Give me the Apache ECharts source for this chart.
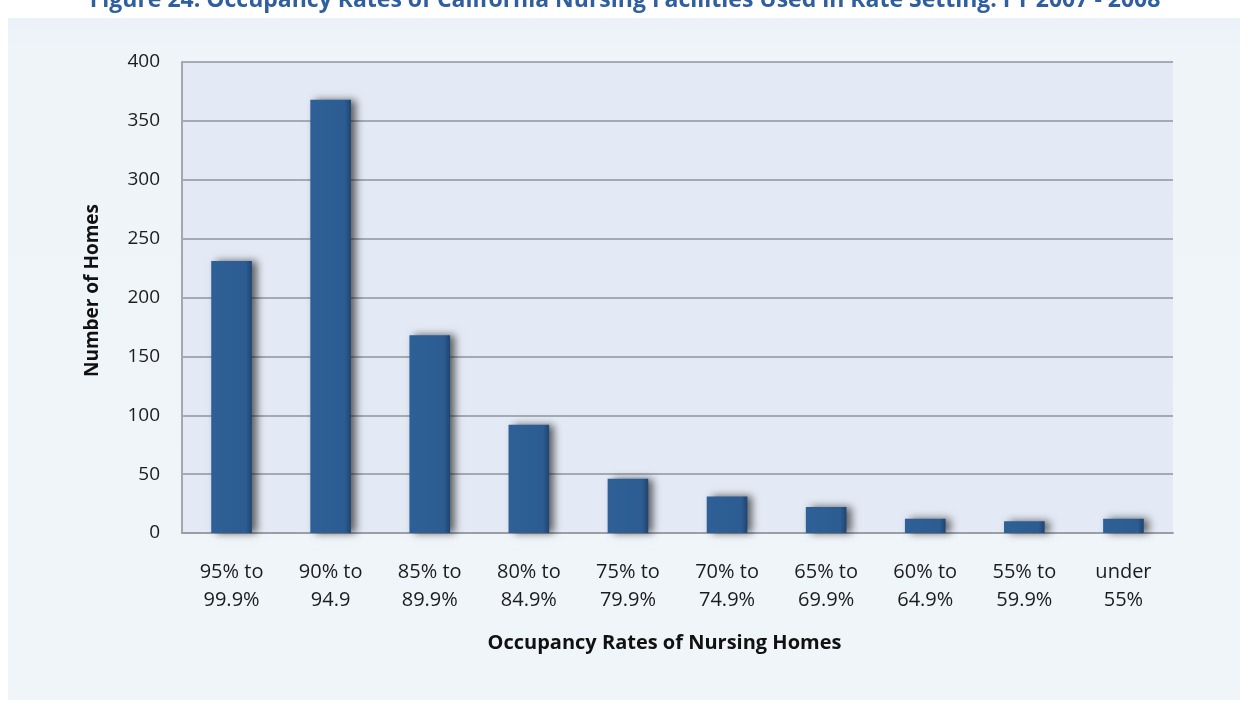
<!DOCTYPE html>
<html>
<head>
<meta charset="utf-8">
<script src="https://cdn.jsdelivr.net/npm/echarts@6/dist/echarts.min.js"></script>
<style>
html,body{margin:0;padding:0;background:#ffffff;}
#chart{width:1250px;height:709px;}
</style>
</head>
<body>
<div id="chart"></div>
<script>
const titleText = 'Figure 24: Occupancy Rates of California Nursing Facilities Used in Rate Setting: FY 2007 - 2008';
const categories = ['95% to\n99.9%','90% to\n94.9','85% to\n89.9%','80% to\n84.9%','75% to\n79.9%','70% to\n74.9%','65% to\n69.9%','60% to\n64.9%','55% to\n59.9%','under\n55%'];
const homes = [231, 368, 168, 92, 46, 31, 22, 12, 10, 12];
const yTicks = [0, 50, 100, 150, 200, 250, 300, 350, 400];
const xAxisName = 'Occupancy Rates of Nursing Homes';
const yAxisName = 'Number of Homes';

const chart = echarts.init(document.getElementById('chart'), null, {renderer:'canvas'});
const font = '"Open Sans", "DejaVu Sans", sans-serif';
chart.setOption({
  animation:false,
  backgroundColor:'#ffffff',
  title:{
    text:titleText,
    left:'center',
    top:-16,
    textStyle:{fontFamily:font,fontWeight:'bold',fontSize:23,color:'#2f5f9e'}
  },
  graphic:[
    {type:'rect',z:-10,silent:true,shape:{x:8,y:18,width:1232,height:682},
     style:{fill:{type:'linear',x:0,y:0,x2:0,y2:1,colorStops:[{offset:0,color:'#ebf1f8'},{offset:0.04,color:'#eff4f9'},{offset:1,color:'#f0f5fa'}]}}}
  ],
  grid:{left:182,right:77,top:62,bottom:176,show:true,backgroundColor:'#e4eaf5',borderWidth:0},
  xAxis:{
    type:'category',
    data:categories,
    name:xAxisName,
    nameLocation:'middle',
    nameGap:100,
    nameTextStyle:{fontFamily:font,fontWeight:'bold',fontSize:20,color:'#111',padding:[0,26,0,0]},
    axisLine:{show:true,lineStyle:{color:'#9a9ea6',width:2}},
    axisTick:{show:false},
    axisLabel:{fontFamily:font,fontSize:20,color:'#1c1c1c',lineHeight:28,margin:25,interval:0}
  },
  yAxis:{
    type:'value',
    min:0,max:400,interval:50,
    name:yAxisName,
    nameLocation:'middle',
    nameGap:80,
    nameRotate:90,
    nameTextStyle:{fontFamily:font,fontWeight:'bold',fontSize:19,color:'#111',padding:[0,0,0,14]},
    axisLine:{show:true,lineStyle:{color:'#a3a7ae',width:2}},
    axisTick:{show:false},
    axisLabel:{fontFamily:font,fontSize:19,color:'#1c1c1c',margin:22,
      formatter:v=>yTicks.includes(v)?String(v):''},
    splitLine:{lineStyle:{color:'#8f949c',width:1.5}}
  },
  series:[{
    type:'bar',
    data:homes,
    barWidth:'41%',
    itemStyle:{
      color:{type:'linear',x:0,y:0,x2:1,y2:0,colorStops:[{offset:0,color:'#2e6097'},{offset:0.85,color:'#2c5c91'},{offset:1,color:'#1f4570'}]},
      shadowColor:'rgba(0,0,0,0.6)',shadowBlur:8,shadowOffsetX:5,shadowOffsetY:0
    }
  }]
});
</script>
</body>
</html>
